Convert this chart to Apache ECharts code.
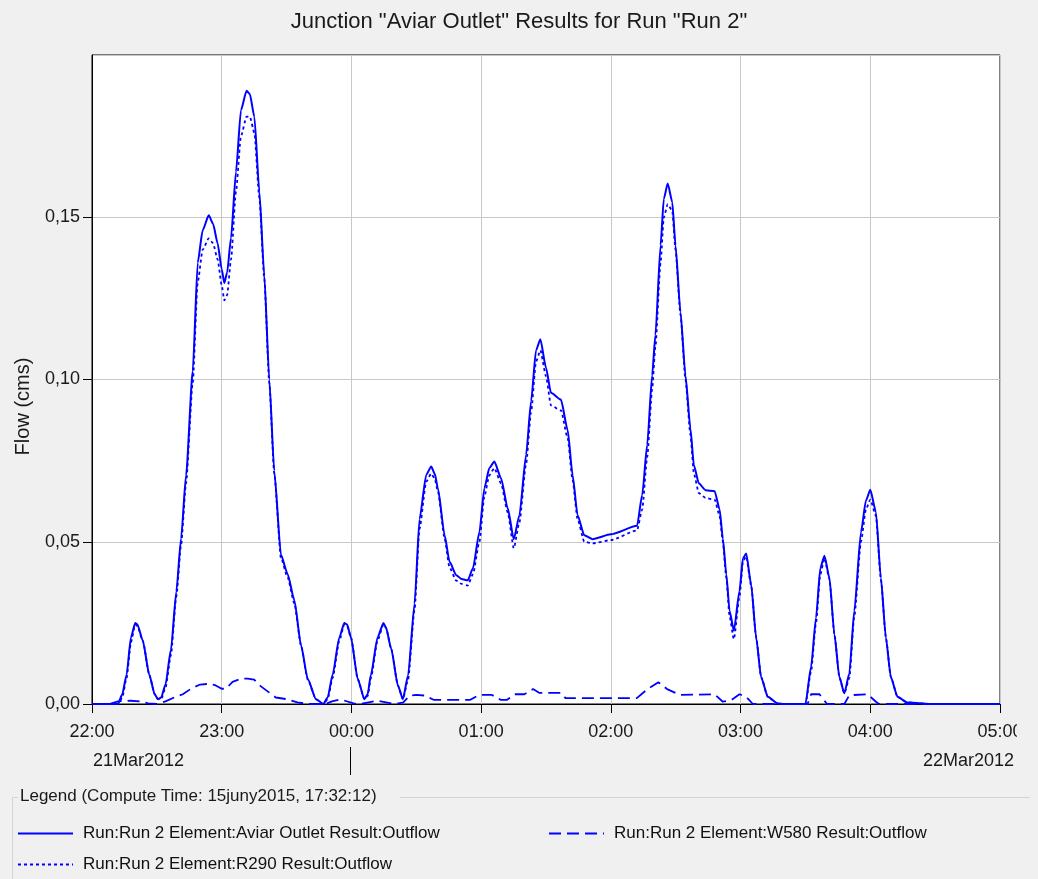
<!DOCTYPE html>
<html>
<head>
<meta charset="utf-8">
<title>Junction Aviar Outlet</title>
<script src="https://cdn.jsdelivr.net/npm/echarts@6/dist/echarts.min.js"></script>
<style>
  html, body { margin: 0; padding: 0; background: #f0f0f0; }
  #main { width: 1038px; height: 879px; }
</style>
</head>
<body>
<div id="main"></div>
<script>
// minutes after 22:00 on 21Mar2012
const mainTimes = [0, 12, 14, 16, 18, 20, 21, 23.5, 26.5, 29, 30.5, 32, 34, 36.5, 39, 41.2, 43.5, 46.6, 48.9, 51.2,
  54, 56, 58.1, 60, 61.2, 62.5, 64.3, 66.6, 68.9, 71.5, 73, 75.1, 77.4, 79.7, 82, 84.3, 87.4, 90.5, 93.6, 96.7,
  99.8, 103.6, 107, 109, 111.3, 114.4, 116.7, 118, 119.8, 122.9, 126, 127.5, 129, 132.1, 134.8, 136, 138.4, 141.5, 143.8, 146.2,
  149.2, 151.5, 154.6, 156.9, 158.5, 160, 163.1, 165.4, 168.5, 171, 173.8, 176.2, 179.2, 181.5, 183.8, 186.1, 189.2, 192.3, 195.1, 197.7,
  200.8, 203.1, 205.4, 207.4, 210, 212.3, 216.9, 220, 222.3, 224.6, 227.7, 231.5, 240, 252.1, 254.5, 256.8, 259.1, 260.6, 263, 264.5,
  266.3, 268.4, 269.9, 272.2, 274.5, 276.8, 278.4, 280.7, 283.8, 288, 290.3, 291.8, 293.4, 294.9, 296.9, 299.5, 301.1, 302.6, 304.9, 307.2,
  309.5, 312.6, 317, 320, 330, 332.6, 334.9, 336.9, 338.8, 341.1, 343.4, 345.7, 348, 350.3, 352.6, 355.7, 358, 360, 362.6, 364.9,
  367.2, 369.5, 372.6, 377, 383, 388, 420];

const aviarOutflow = [0, 0, 0.003, 0.009, 0.0205, 0.025, 0.0245, 0.0195, 0.009, 0.003, 0.0015, 0.002, 0.006, 0.0167, 0.0346, 0.051, 0.0705, 0.1026, 0.136, 0.146,
  0.1506, 0.148, 0.142, 0.134, 0.1297, 0.133, 0.1436, 0.164, 0.183, 0.189, 0.188, 0.181, 0.158, 0.132, 0.100, 0.0718, 0.046, 0.040, 0.032, 0.018,
  0.0077, 0.0015, 0, 0.002, 0.009, 0.0205, 0.025, 0.0245, 0.0205, 0.0077, 0.0015, 0.003, 0.009, 0.0205, 0.025, 0.0235, 0.017, 0.0057, 0.0015, 0.0088,
  0.031, 0.057, 0.0706, 0.0732, 0.071, 0.0665, 0.052, 0.0438, 0.0397, 0.0385, 0.0381, 0.0418, 0.053, 0.0665, 0.0727, 0.0747, 0.0696, 0.0603, 0.0508, 0.0582,
  0.0768, 0.0933, 0.109, 0.1124, 0.1036, 0.0959, 0.0938, 0.0845, 0.0706, 0.0582, 0.052, 0.0508, 0.0523, 0.0549, 0.0644, 0.0798, 0.1013, 0.1137, 0.1414, 0.1557,
  0.1604, 0.1547, 0.1414, 0.1208, 0.1013, 0.0849, 0.0736, 0.068, 0.0659, 0.0656, 0.060, 0.051, 0.040, 0.0287, 0.0226, 0.0348, 0.0449, 0.0464, 0.0368, 0.0205,
  0.0083, 0.0022, 0.0002, 0, 0, 0.0114, 0.0266, 0.0419, 0.0457, 0.0388, 0.0215, 0.0083, 0.0033, 0.0094, 0.0287, 0.053, 0.0627, 0.066, 0.0592, 0.0388,
  0.0205, 0.0083, 0.0022, 0.0005, 0.0002, 0, 0];

const r290Outflow = [0, 0, 0.002, 0.008, 0.019, 0.0245, 0.024, 0.0195, 0.009, 0.003, 0.0015, 0.0015, 0.005, 0.015, 0.033, 0.049, 0.068, 0.099, 0.130, 0.140,
  0.1435, 0.142, 0.137, 0.129, 0.1244, 0.126, 0.137, 0.158, 0.175, 0.181, 0.181, 0.176, 0.156, 0.131, 0.099, 0.071, 0.045, 0.039, 0.031, 0.018,
  0.0075, 0.0015, 0, 0.0015, 0.008, 0.0195, 0.0245, 0.024, 0.0205, 0.0077, 0.0015, 0.0025, 0.008, 0.0195, 0.0245, 0.0235, 0.017, 0.0057, 0.0015, 0.0075,
  0.029, 0.054, 0.0685, 0.071, 0.0695, 0.0655, 0.051, 0.042, 0.038, 0.037, 0.0365, 0.040, 0.050, 0.064, 0.0705, 0.0727, 0.068, 0.059, 0.048, 0.056,
  0.074, 0.090, 0.1055, 0.109, 0.101, 0.092, 0.0905, 0.082, 0.069, 0.057, 0.050, 0.0495, 0.0505, 0.0535, 0.060, 0.076, 0.097, 0.110, 0.136, 0.150,
  0.154, 0.152, 0.140, 0.120, 0.100, 0.083, 0.071, 0.065, 0.0635, 0.063, 0.058, 0.050, 0.039, 0.027, 0.020, 0.033, 0.044, 0.0455, 0.0365, 0.0205,
  0.0083, 0.0022, 0.0002, 0, 0, 0.010, 0.025, 0.040, 0.045, 0.0385, 0.0215, 0.0083, 0.0033, 0.008, 0.027, 0.050, 0.060, 0.063, 0.058, 0.0385,
  0.0205, 0.0083, 0.0022, 0.0005, 0.0002, 0, 0];

const w580Times = [0, 8, 12, 18, 22, 26, 30, 34, 38, 42, 46, 50, 54, 57, 60, 62, 65, 69, 72, 75,
  78, 82, 85, 90, 95, 100, 108, 111, 114, 117, 121, 124, 128, 132, 136, 140, 144, 147, 150, 154,
  158, 175, 179, 185, 189, 192, 195.5, 200, 204, 207, 217, 219, 252, 257, 262, 266, 272, 288, 291.8, 295.7,
  299.5, 302.6, 305.7, 331, 332.6, 336.5, 340, 348, 350.3, 358.8, 362.6, 364, 420];
const w580Outflow = [0, 0, 0.0008, 0.001, 0.0008, 0.0002, 0, 0.0008, 0.002, 0.003, 0.0048, 0.006, 0.0062, 0.0058, 0.0047, 0.0047, 0.0068, 0.0078, 0.0078, 0.0075,
  0.0055, 0.0035, 0.002, 0.0015, 0.0005, 0, 0, 0.0008, 0.0013, 0.001, 0.0002, 0, 0.0005, 0.001, 0.0005, 0, 0.0005, 0.0026, 0.0028, 0.0026,
  0.0013, 0.0013, 0.0028, 0.0028, 0.0013, 0.0013, 0.003, 0.003, 0.0046, 0.0034, 0.0034, 0.0018, 0.0018, 0.0046, 0.0067, 0.0046, 0.0028, 0.003, 0.0007, 0.0012,
  0.003, 0.0022, 0, 0, 0.003, 0.003, 0, 0, 0.0027, 0.003, 0.0007, 0, 0];

const hourTicks = ['22:00', '23:00', '00:00', '01:00', '02:00', '03:00', '04:00', '05:00'];
const dateLabels = ['21Mar2012', '22Mar2012'];
const seriesNames = [
  'Run:Run 2 Element:Aviar Outlet Result:Outflow',
  'Run:Run 2 Element:W580 Result:Outflow',
  'Run:Run 2 Element:R290 Result:Outflow'
];

const FONT = "'Liberation Sans', 'DejaVu Sans', sans-serif";
const BLUE = '#0000ff';

function pairs(ts, vs) {
  return ts.map((t, i) => [t, vs[i]]);
}

const legendBase = {
  itemWidth: 55,
  itemHeight: 14,
  itemStyle: { opacity: 0 },
  textStyle: { fontFamily: FONT, fontSize: 17, color: '#111', padding: [0, 0, 0, 5] },
  selectedMode: false
};

var myChart = echarts.init(document.getElementById('main'));
var option = {
  backgroundColor: '#f0f0f0',
  animation: false,
  title: {
    text: 'Junction "Aviar Outlet" Results for Run "Run 2"',
    left: 'center',
    top: 6,
    textStyle: { fontFamily: FONT, fontSize: 22, fontWeight: 'normal', color: '#1a1a1a' }
  },
  grid: {
    left: 92, right: 38, top: 55, bottom: 175,
    outerBoundsMode: 'none',
    containLabel: false,
    show: true, backgroundColor: '#ffffff', borderColor: '#000', borderWidth: 1
  },
  legend: [
    Object.assign({}, legendBase, { data: [seriesNames[0]], left: 12, top: 820 }),
    Object.assign({}, legendBase, { data: [seriesNames[1]], left: 543, top: 820 }),
    Object.assign({}, legendBase, { data: [seriesNames[2]], left: 12, top: 851 })
  ],
  xAxis: {
    type: 'value',
    min: 0, max: 420, interval: 60,
    axisLine: { show: true, lineStyle: { color: '#000' } },
    axisTick: { show: true, length: 9, lineStyle: { color: '#000' } },
    axisLabel: {
      fontFamily: FONT, fontSize: 18, color: '#1a1a1a', margin: 19,
      formatter: v => hourTicks[Math.round(v / 60)]
    },
    splitLine: { show: true, lineStyle: { color: '#c8c8c8', width: 1 } }
  },
  yAxis: {
    type: 'value',
    min: 0, max: 0.2, interval: 0.05,
    name: 'Flow (cms)',
    nameLocation: 'middle',
    nameGap: 59,
    nameTextStyle: { fontFamily: FONT, fontSize: 20, color: '#1a1a1a', padding: [0, 54, 0, 0] },
    axisLine: { show: true, lineStyle: { color: '#000' } },
    axisTick: { show: true, length: 9, lineStyle: { color: '#000' } },
    axisLabel: {
      fontFamily: FONT, fontSize: 18, color: '#1a1a1a', margin: 12,
      showMaxLabel: false,
      formatter: v => v > 0.19 ? '' : v.toFixed(2).replace('.', ',')
    },
    splitLine: { show: true, lineStyle: { color: '#c8c8c8', width: 1 } }
  },
  series: [
    {
      name: seriesNames[2], type: 'line', symbol: 'none', smooth: 0.2, smoothMonotone: 'x',
      data: pairs(mainTimes, r290Outflow),
      lineStyle: { color: BLUE, width: 1.8, type: [3, 3] }, itemStyle: { color: BLUE }, z: 2
    },
    {
      name: seriesNames[1], type: 'line', symbol: 'none', smooth: false,
      data: pairs(w580Times, w580Outflow),
      lineStyle: { color: BLUE, width: 1.8, type: [12, 6] }, itemStyle: { color: BLUE }, z: 3
    },
    {
      name: seriesNames[0], type: 'line', symbol: 'none', smooth: 0.2, smoothMonotone: 'x',
      data: pairs(mainTimes, aviarOutflow),
      lineStyle: { color: BLUE, width: 2, type: 'solid' }, itemStyle: { color: BLUE }, z: 4
    }
  ],
  graphic: [
    { type: 'text', left: 93, top: 752, style: { text: dateLabels[0], font: '18px ' + FONT, fill: '#1a1a1a' } },
    { type: 'text', right: 24, top: 752, style: { text: dateLabels[1], font: '18px ' + FONT, fill: '#1a1a1a' } },
    { type: 'line', shape: { x1: 350.5, y1: 747, x2: 350.5, y2: 775 }, style: { stroke: '#000', lineWidth: 1 } },
    // clip the last tick label at the window edge as in the original
    { type: 'rect', shape: { x: 1017, y: 708, width: 21, height: 36 }, style: { fill: '#f0f0f0' }, z: 100 },
    // titled legend border
    { type: 'polyline', shape: { points: [[18, 797.5], [12.5, 797.5], [12.5, 879]] }, style: { stroke: '#d4d4d4', lineWidth: 1, fill: null } },
    { type: 'line', shape: { x1: 400, y1: 797.5, x2: 1030, y2: 797.5 }, style: { stroke: '#d4d4d4', lineWidth: 1 } },
    { type: 'text', left: 20, top: 788, style: { text: 'Legend (Compute Time: 15juny2015, 17:32:12)', font: '17px ' + FONT, fill: '#1a1a1a' } }
  ]
};
myChart.setOption(option);
</script>
</body>
</html>
